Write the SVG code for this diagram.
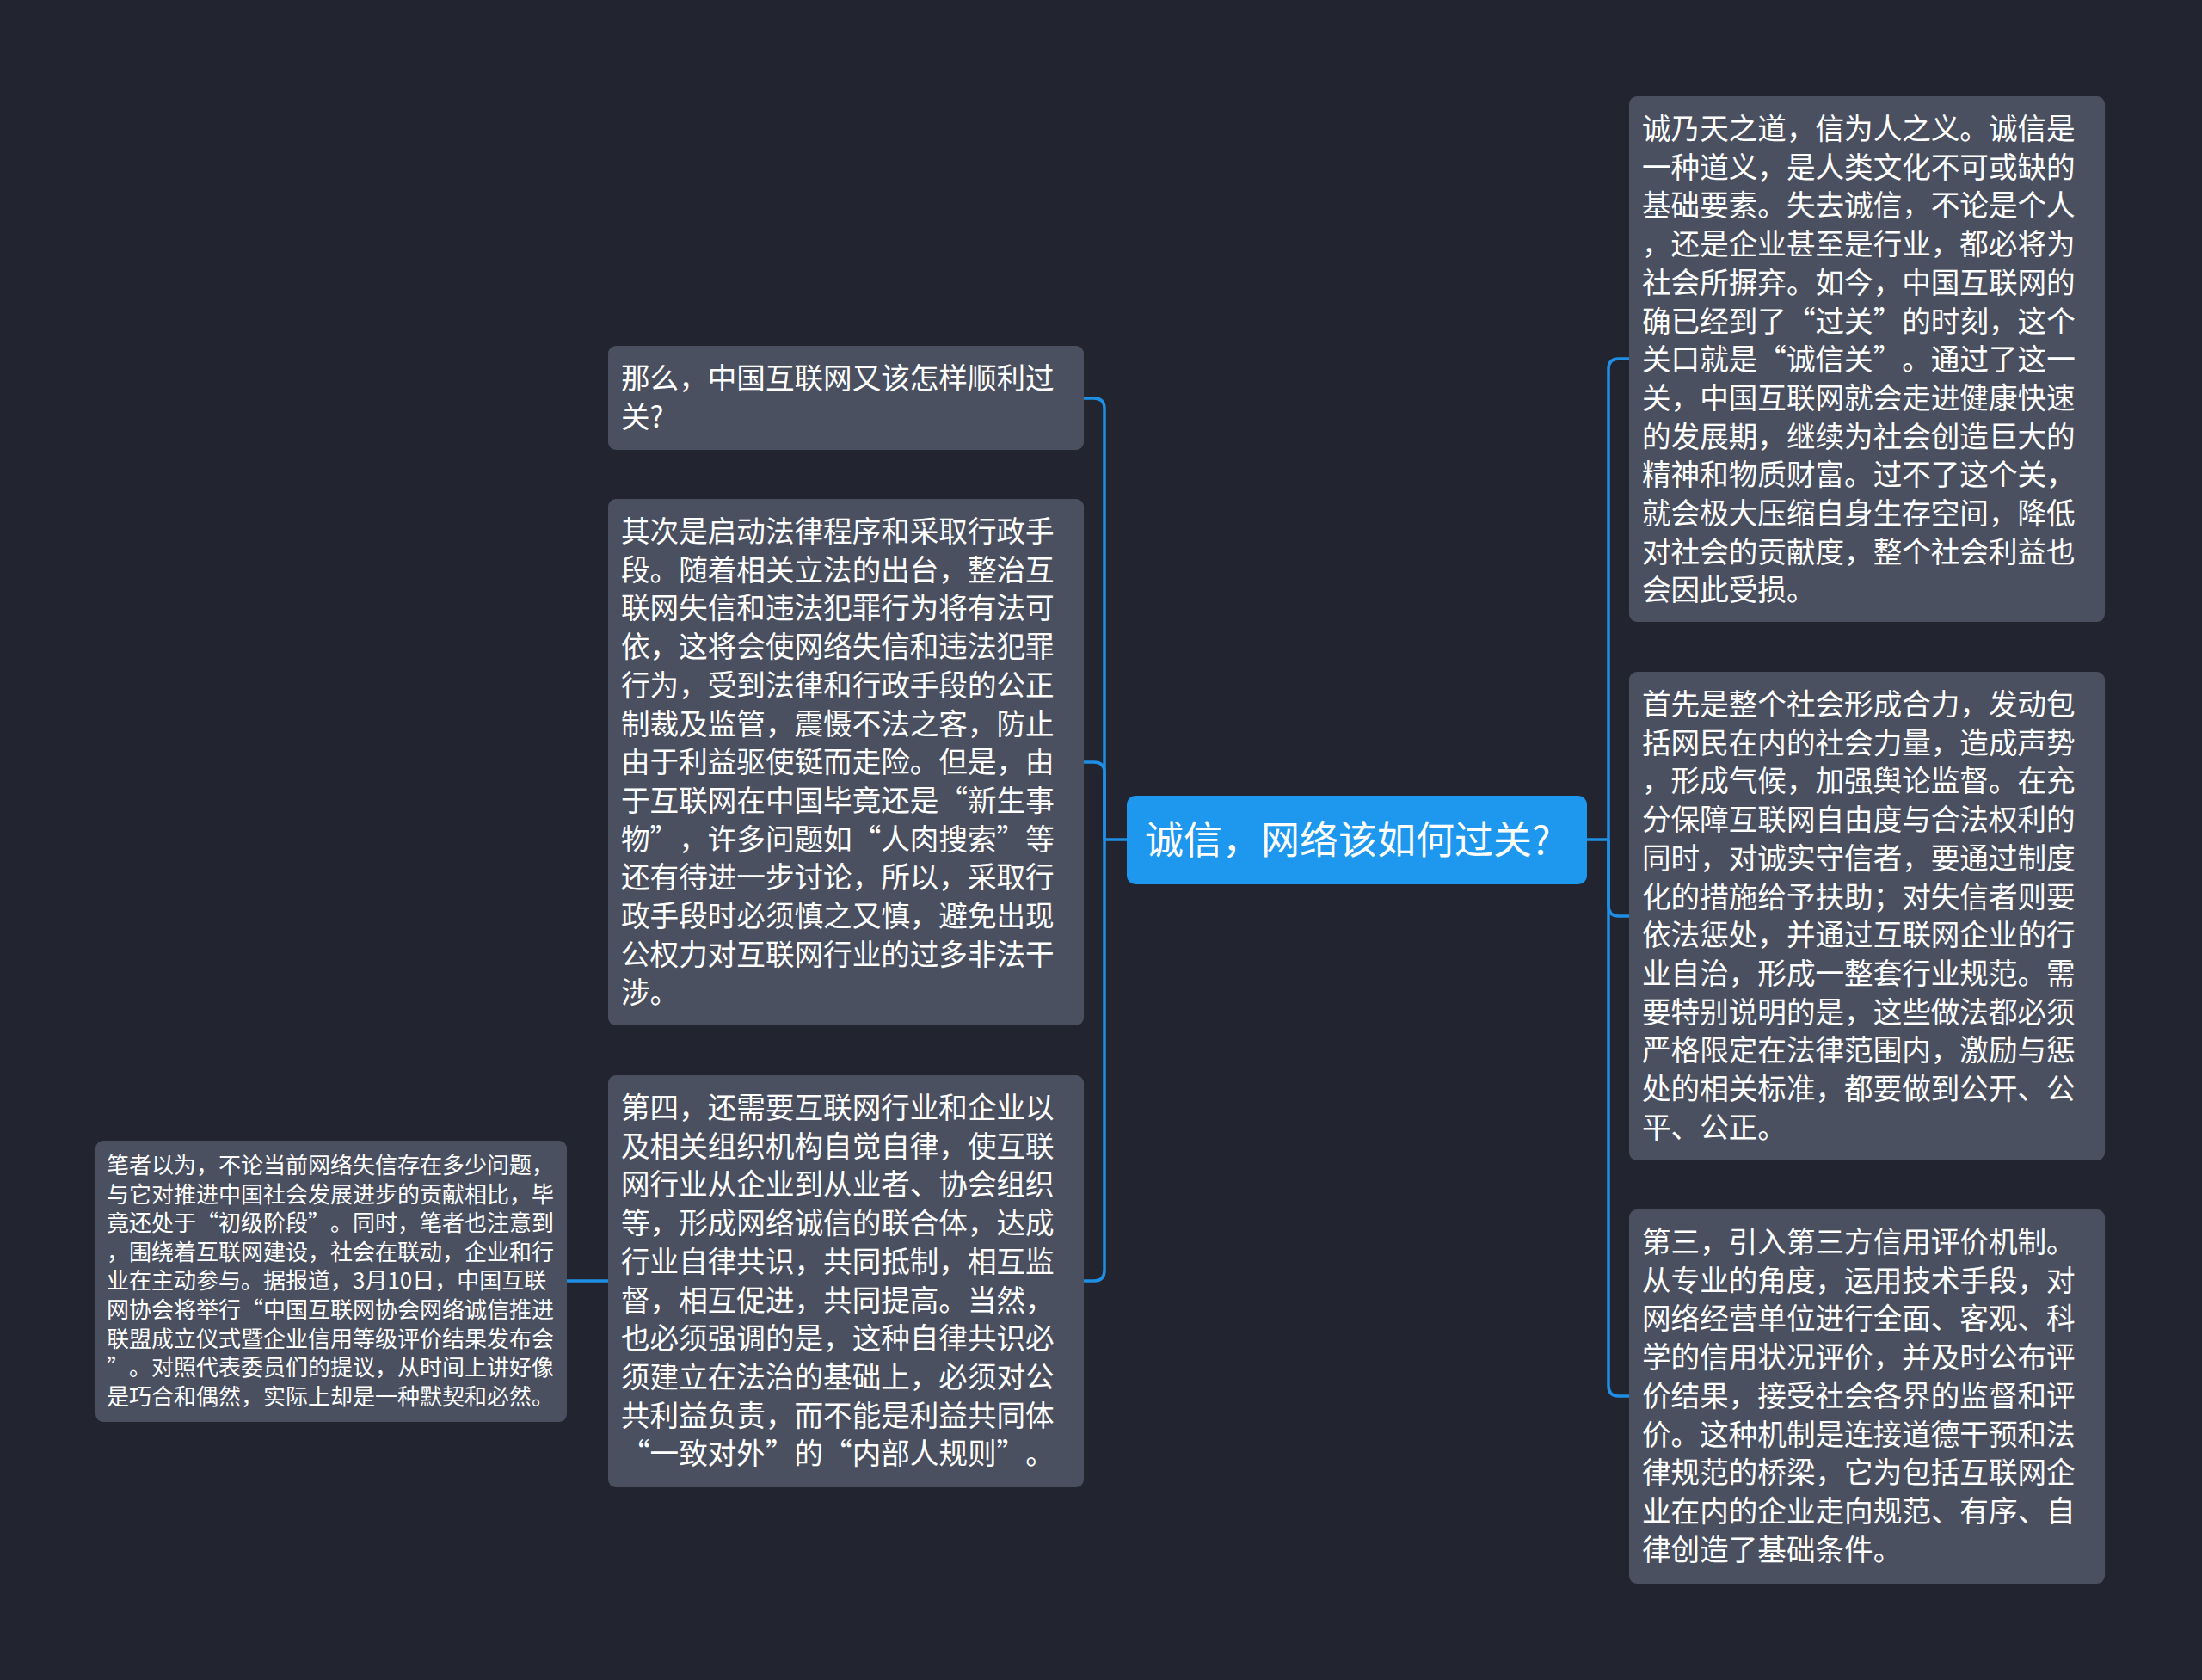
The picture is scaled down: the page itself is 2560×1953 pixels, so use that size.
<svg xmlns="http://www.w3.org/2000/svg" width="2560" height="1953" viewBox="0 0 2560 1953">
<style>
text{text-spacing-trim:space-all}
.bg{fill:#22252f}
.node rect{fill:#4a5060}
.root rect{fill:#1d98ee}
.t{font-family:"Noto Sans CJK SC","Noto Sans",sans-serif;fill:#ffffff;font-size:33.6px}
.s{font-family:"Noto Sans CJK SC","Noto Sans",sans-serif;fill:#ffffff;font-size:26px}
.r{font-family:"Noto Sans CJK SC","Noto Sans",sans-serif;fill:#ffffff;font-size:45px}
.q{font-feature-settings:"fwid" 1}
.c path{fill:none;stroke:#1f8fe5;stroke-width:3.5}
</style>
<rect class="bg" x="0" y="0" width="2560" height="1953"/>
<g class="c" id="connectors">
<path d="M1310 976 H1284"/>
<path d="M1284 976 V475 Q1284 463 1272 463 H1260"/>
<path d="M1284 976 V898 Q1284 886 1272 886 H1260"/>
<path d="M1284 976 V1477 Q1284 1489 1272 1489 H1260"/>
<path d="M707 1489 H659"/>
<path d="M1845 976 H1870"/>
<path d="M1870 976 V429 Q1870 417 1882 417 H1894"/>
<path d="M1870 976 V1053 Q1870 1065 1882 1065 H1894"/>
<path d="M1870 976 V1611 Q1870 1623 1882 1623 H1894"/>
</g>
<g class="root" id="root">
<rect x="1310" y="925" width="535" height="103" rx="10"/>
<text class="r" x="1331" y="993">诚信，网络该如何过关?</text>
</g>
<g class="node" id="n-nameo">
<rect x="707" y="402" width="553" height="121" rx="9"/>
<text class="t"><tspan x="722" y="452">那么，中国互联网又该怎样顺利过</tspan><tspan x="722" dy="44.7">关?</tspan></text>
</g>
<g class="node" id="n-qici">
<rect x="707" y="580" width="553" height="612" rx="9"/>
<text class="t"><tspan x="722" y="630">其次是启动法律程序和采取行政手</tspan><tspan x="722" dy="44.7">段。随着相关立法的出台，整治互</tspan><tspan x="722" dy="44.7">联网失信和违法犯罪行为将有法可</tspan><tspan x="722" dy="44.7">依，这将会使网络失信和违法犯罪</tspan><tspan x="722" dy="44.7">行为，受到法律和行政手段的公正</tspan><tspan x="722" dy="44.7">制裁及监管，震慑不法之客，防止</tspan><tspan x="722" dy="44.7">由于利益驱使铤而走险。但是，由</tspan><tspan x="722" dy="44.7">于互联网在中国毕竟还是<tspan class="q">“</tspan>新生事</tspan><tspan x="722" dy="44.7">物<tspan class="q">”</tspan>，许多问题如<tspan class="q">“</tspan>人肉搜索<tspan class="q">”</tspan>等</tspan><tspan x="722" dy="44.7">还有待进一步讨论，所以，采取行</tspan><tspan x="722" dy="44.7">政手段时必须慎之又慎，避免出现</tspan><tspan x="722" dy="44.7">公权力对互联网行业的过多非法干</tspan><tspan x="722" dy="44.7">涉。</tspan></text>
</g>
<g class="node" id="n-disi">
<rect x="707" y="1250" width="553" height="479" rx="9"/>
<text class="t"><tspan x="722" y="1300">第四，还需要互联网行业和企业以</tspan><tspan x="722" dy="44.7">及相关组织机构自觉自律，使互联</tspan><tspan x="722" dy="44.7">网行业从企业到从业者、协会组织</tspan><tspan x="722" dy="44.7">等，形成网络诚信的联合体，达成</tspan><tspan x="722" dy="44.7">行业自律共识，共同抵制，相互监</tspan><tspan x="722" dy="44.7">督，相互促进，共同提高。当然，</tspan><tspan x="722" dy="44.7">也必须强调的是，这种自律共识必</tspan><tspan x="722" dy="44.7">须建立在法治的基础上，必须对公</tspan><tspan x="722" dy="44.7">共利益负责，而不能是利益共同体</tspan><tspan x="722" dy="44.7"><tspan class="q">“</tspan>一致对外<tspan class="q">”</tspan>的<tspan class="q">“</tspan>内部人规则<tspan class="q">”</tspan>。</tspan></text>
</g>
<g class="node" id="n-bizhe">
<rect x="111" y="1326" width="548" height="327" rx="9"/>
<text class="s"><tspan x="124" y="1364">笔者以为，不论当前网络失信存在多少问题，</tspan><tspan x="124" dy="33.6">与它对推进中国社会发展进步的贡献相比，毕</tspan><tspan x="124" dy="33.6">竟还处于<tspan class="q">“</tspan>初级阶段<tspan class="q">”</tspan>。同时，笔者也注意到</tspan><tspan x="124" dy="33.6">，围绕着互联网建设，社会在联动，企业和行</tspan><tspan x="124" dy="33.6">业在主动参与。据报道，3月10日，中国互联</tspan><tspan x="124" dy="33.6">网协会将举行<tspan class="q">“</tspan>中国互联网协会网络诚信推进</tspan><tspan x="124" dy="33.6">联盟成立仪式暨企业信用等级评价结果发布会</tspan><tspan x="124" dy="33.6"><tspan class="q">”</tspan>。对照代表委员们的提议，从时间上讲好像</tspan><tspan x="124" dy="33.6">是巧合和偶然，实际上却是一种默契和必然。</tspan></text>
</g>
<g class="node" id="n-cheng">
<rect x="1894" y="112" width="553" height="611" rx="9"/>
<text class="t"><tspan x="1909" y="162">诚乃天之道，信为人之义。诚信是</tspan><tspan x="1909" dy="44.7">一种道义，是人类文化不可或缺的</tspan><tspan x="1909" dy="44.7">基础要素。失去诚信，不论是个人</tspan><tspan x="1909" dy="44.7">，还是企业甚至是行业，都必将为</tspan><tspan x="1909" dy="44.7">社会所摒弃。如今，中国互联网的</tspan><tspan x="1909" dy="44.7">确已经到了<tspan class="q">“</tspan>过关<tspan class="q">”</tspan>的时刻，这个</tspan><tspan x="1909" dy="44.7">关口就是<tspan class="q">“</tspan>诚信关<tspan class="q">”</tspan>。通过了这一</tspan><tspan x="1909" dy="44.7">关，中国互联网就会走进健康快速</tspan><tspan x="1909" dy="44.7">的发展期，继续为社会创造巨大的</tspan><tspan x="1909" dy="44.7">精神和物质财富。过不了这个关，</tspan><tspan x="1909" dy="44.7">就会极大压缩自身生存空间，降低</tspan><tspan x="1909" dy="44.7">对社会的贡献度，整个社会利益也</tspan><tspan x="1909" dy="44.7">会因此受损。</tspan></text>
</g>
<g class="node" id="n-shouxian">
<rect x="1894" y="781" width="553" height="568" rx="9"/>
<text class="t"><tspan x="1909" y="831">首先是整个社会形成合力，发动包</tspan><tspan x="1909" dy="44.7">括网民在内的社会力量，造成声势</tspan><tspan x="1909" dy="44.7">，形成气候，加强舆论监督。在充</tspan><tspan x="1909" dy="44.7">分保障互联网自由度与合法权利的</tspan><tspan x="1909" dy="44.7">同时，对诚实守信者，要通过制度</tspan><tspan x="1909" dy="44.7">化的措施给予扶助；对失信者则要</tspan><tspan x="1909" dy="44.7">依法惩处，并通过互联网企业的行</tspan><tspan x="1909" dy="44.7">业自治，形成一整套行业规范。需</tspan><tspan x="1909" dy="44.7">要特别说明的是，这些做法都必须</tspan><tspan x="1909" dy="44.7">严格限定在法律范围内，激励与惩</tspan><tspan x="1909" dy="44.7">处的相关标准，都要做到公开、公</tspan><tspan x="1909" dy="44.7">平、公正。</tspan></text>
</g>
<g class="node" id="n-disan">
<rect x="1894" y="1406" width="553" height="435" rx="9"/>
<text class="t"><tspan x="1909" y="1456">第三，引入第三方信用评价机制。</tspan><tspan x="1909" dy="44.7">从专业的角度，运用技术手段，对</tspan><tspan x="1909" dy="44.7">网络经营单位进行全面、客观、科</tspan><tspan x="1909" dy="44.7">学的信用状况评价，并及时公布评</tspan><tspan x="1909" dy="44.7">价结果，接受社会各界的监督和评</tspan><tspan x="1909" dy="44.7">价。这种机制是连接道德干预和法</tspan><tspan x="1909" dy="44.7">律规范的桥梁，它为包括互联网企</tspan><tspan x="1909" dy="44.7">业在内的企业走向规范、有序、自</tspan><tspan x="1909" dy="44.7">律创造了基础条件。</tspan></text>
</g>
</svg>
